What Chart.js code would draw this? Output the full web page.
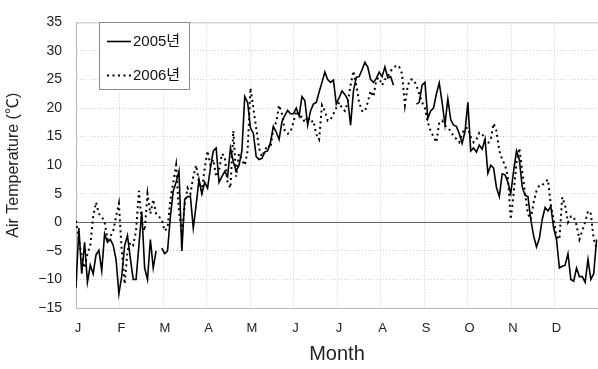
<!DOCTYPE html>
<html>
<head>
<meta charset="utf-8">
<script src="https://cdn.jsdelivr.net/npm/chart.js@4.4.0/dist/chart.umd.min.js"></script>
<style>
	body { margin: 0; background: #fff; }
	#wrap { width: 598px; height: 369px; }
</style>
</head>
<body>
<div id="wrap"><canvas id="tempChart" width="598" height="369"></canvas></div>
<script>
	// month tick labels (12 equal divisions of the year)
	let monthLabels = ['J', 'F', 'M', 'A', 'M', 'J', 'J', 'A', 'S', 'O', 'N', 'D'];
	let seriesNames = ['2005년', '2006년'];

	// day of year for each reading (every second day)
	let days = [];
	for (let d = 0; d <= 364; d += 2) {
		days.push(d);
	}

	// daily air temperature 2005 (℃), null = no data
	let temp2005 = [
		-11.4, -1, -9, -3.5, -10.5, -7.5, -9, -5.7, -4.9, -8.5,
		-2, -3.5, -3, -4, -6.5, -12.5, -9.4, -4.1, -2.3, -6.3,
		-10, -10, -4, 1.9, -8, -10, -3, -8, -5, null,
		-4.5, -5.5, -5, 1, 5.5, 7, 9, -5, 4, 4.5,
		4.5, -1, 3, 7.5, 5, 7, 6, 9.5, 12.5, 13,
		7, 8, 8.9, 8, 13, 10.6, 9, 10, 12.5, 22,
		21, 16.5, 15.6, 11.5, 11, 11.2, 12.3, 12.5, 14, 16.8,
		15.8, 14.5, 17.6, 18.7, 19.6, 19, 19, 20, 18.6, 22,
		21.3, 17, 19.5, 20.7, 21, 22.8, 24.5, 26.3, 25, 24.5,
		24.9, 20.7, 21.8, 23, 22.4, 21.5, 17, 23, 25.4, 25.5,
		26.7, 28, 27.2, 25, 24.5, 25.2, 26.3, 25.5, 27.2, 25.3,
		25.5, 24, null, null, null, null, null, null, null, 20.7,
		21, 24, 24.5, 18.2, 19.5, 20, 22.5, 24.4, 21, 17.1,
		21.6, 18, 17, 16.8, 15.5, 13.8, 15.9, 21, 12.5, 13,
		12.3, 13.5, 12.8, 14.6, 8.6, 10, 9.5, 6.1, 4.5, 8.5,
		8.3, 7, 5, 9, 12.5, 11, 6.2, 4.7, 4.5, 0.5,
		-2.4, -4.3, -2.8, 0.5, 2.6, 2, 2.8, -1, -3, -8,
		-7.7, -7.5, -5.5, -10, -10.3, -8, -9.5, -9.5, -10.5, -6.5,
		-10, -9, -3
	];

	// daily air temperature 2006 (℃)
	let temp2006 = [
		0.3, -3, -6, -8, -5.5, -4, 1, 3.5, 1.5, 1,
		0, -3, -2.5, -1.5, 1, 3.3, -5, -10.8, -5, -3.5,
		-4, -1.5, 5.5, 0, -1.5, 5, 1.5, 4, 1.5, 1,
		0.5, -1.5, -1, 4, 7, 10, 2, -2, 3, 6,
		5, 8, 10, 7, 5.5, 9.5, 12.5, 10, 11, 8,
		9, 12, 11.5, 7, 6, 16, 8, 12, 11, 10,
		12.5, 23.5, 20, 16.5, 13, 11.5, 12.5, 13.5, 13, 16.5,
		17.5, 20.5, 19, 16, 15.5, 15.8, 17.5, 19.5, 18.5, 18.5,
		17.5, 18.5, 17.5, 17.8, 15.4, 14.5, 20.5, 19.5, 17.8, 18,
		19, 20, 21, 20, 19.5, 21, 24, 26.5, 24, 21,
		19.5, 19.4, 21, 23, 22, 25, 25.3, 24, 25, 25.5,
		26.5, 27, 27.5, 27.2, 26, 20.5, 24, 25, 25, 24,
		22.5, 21, 20, 17.5, 16, 15, 14, 17.5, 17.8, 17,
		16.5, 16, 15, 14.6, 14, 15.5, 16.5, 16.5, 15, 14,
		14.5, 15.7, 15.5, 14.3, 13.8, 14.5, 17.3, 16, 12.5, 11,
		10, 8, 0.5, 5, 10.5, 13, 9, 5, 1.5, 0.5,
		3.5, 5.5, 6.5, 6.5, 7, 7.5, 3, 0.5, -2.5, -3,
		4.4, 3, 0, 1, 1, -0.5, -3, -1.5, 0, 2,
		1.5, -3, -4.5
	];

	let fontFamily = "'Liberation Sans', 'Noto Sans CJK KR', Arial, sans-serif";
	let daysInYear = 365;

	let toPoints = function(values) {
		return values.map(function(v, i) {
			return { x: days[i], y: v };
		});
	};

	// 테두리 + 0℃ 기준선
	let frameLines = {
		id: 'frameLines',
		beforeDatasetsDraw: function(chart) {
			let ctx = chart.ctx;
			let area = chart.chartArea;
			let y0 = Math.round(chart.scales.y.getPixelForValue(0)) + 0.5;
			ctx.save();
			ctx.lineWidth = 1;
			ctx.strokeStyle = '#c4c4c4';
			ctx.beginPath();
			ctx.moveTo(area.left, area.top + 0.5);
			ctx.lineTo(area.right, area.top + 0.5);
			ctx.stroke();
			ctx.strokeStyle = '#666';
			ctx.beginPath();
			ctx.moveTo(area.left, y0);
			ctx.lineTo(area.right, y0);
			ctx.stroke();
			ctx.restore();
		}
	};

	// legend box inside the plot
	let boxLegend = {
		id: 'boxLegend',
		afterDraw: function(chart) {
			let ctx = chart.ctx;
			ctx.save();
			ctx.strokeStyle = '#8a8a8a';
			ctx.lineWidth = 1;
			ctx.fillStyle = '#fff';
			ctx.fillRect(99.5, 22.5, 90, 67);
			ctx.strokeRect(99.5, 22.5, 90, 67);
			let rows = [41.5, 75.5];
			chart.data.datasets.forEach(function(ds, i) {
				ctx.strokeStyle = '#000';
				ctx.lineWidth = ds.borderWidth;
				ctx.setLineDash(ds.borderDash || []);
				ctx.beginPath();
				ctx.moveTo(107, rows[i]);
				ctx.lineTo(131, rows[i]);
				ctx.stroke();
				ctx.setLineDash([]);
				ctx.fillStyle = '#111';
				ctx.font = '15px ' + fontFamily;
				ctx.textBaseline = 'middle';
				ctx.textAlign = 'left';
				ctx.fillText(ds.label, 133, rows[i]);
			});
			ctx.restore();
		}
	};

	let ctx = document.getElementById('tempChart');

	let tempChart = new Chart(ctx, {
		type: 'line',
		data: {
			datasets: [{
				label: seriesNames[0],
				data: toPoints(temp2005),
				borderColor: '#000',
				borderWidth: 1.6,
				pointRadius: 0,
				tension: 0,
				spanGaps: false
			}, {
				label: seriesNames[1],
				data: toPoints(temp2006),
				borderColor: '#000',
				borderWidth: 2,
				borderDash: [2, 3.5],
				pointRadius: 0,
				tension: 0,
				spanGaps: false
			}]
		},
		options: {
			responsive: false,
			animation: false,
			layout: {
				padding: { top: 12, right: 0, left: 0, bottom: 0 }
			},
			plugins: {
				legend: { display: false },
				tooltip: { enabled: false }
			},
			scales: {
				x: {
					type: 'linear',
					min: 0,
					max: daysInYear,
					afterBuildTicks: function(scale) {
						scale.ticks = monthLabels.map(function(m, i) {
							return { value: i * daysInYear / 12 };
						});
					},
					afterFit: function(scale) {
						scale.height = 61;
					},
					ticks: {
						autoSkip: false,
						maxRotation: 0,
						padding: 13,
						labelOffset: 2,
						color: '#222',
						font: { family: fontFamily, size: 13 },
						callback: function(value, index) {
							return monthLabels[index];
						}
					},
					grid: {
						color: '#cfcfcf',
						lineWidth: 1,
						drawTicks: false
					},
					border: {
						display: true,
						color: '#b8b8b8',
						dash: [1, 2]
					},
					title: {
						display: true,
						text: 'Month',
						color: '#222',
						font: { family: fontFamily, size: 20 },
						padding: { top: 0, bottom: 3 }
					}
				},
				y: {
					min: -15,
					max: 35,
					afterFit: function(scale) {
						scale.width = 76;
					},
					ticks: {
						stepSize: 5,
						padding: 14,
						color: '#222',
						font: { family: fontFamily, size: 14 },
						callback: function(value) {
							return value < 0 ? '\u2212' + Math.abs(value) : value;
						}
					},
					grid: {
						color: '#cfcfcf',
						lineWidth: 1,
						drawTicks: false
					},
					border: {
						display: true,
						color: '#b8b8b8',
						dash: [1, 2]
					},
					title: {
						display: true,
						text: 'Air Temperature (℃)',
						color: '#222',
						font: { family: fontFamily, size: 16 },
						padding: { top: 4, bottom: 0 }
					}
				}
			}
		},
		plugins: [frameLines, boxLegend]
	});
</script>
</body>
</html>
